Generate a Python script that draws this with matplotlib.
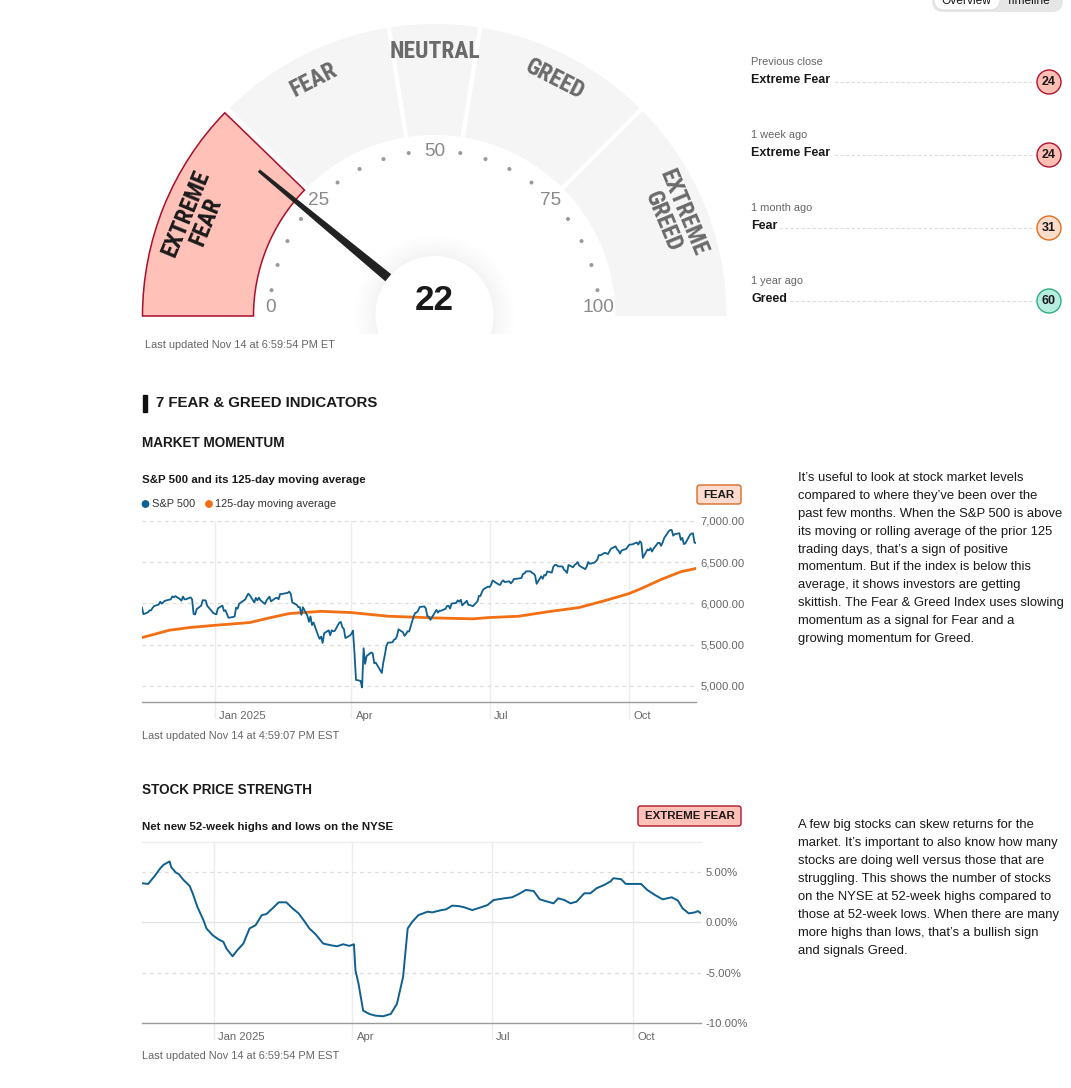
import numpy as np
import pandas as pd
import matplotlib
matplotlib.use("Agg")
import matplotlib.pyplot as plt
from matplotlib.patches import Wedge, Circle, Polygon, FancyBboxPatch, Rectangle
from matplotlib import font_manager

plt.rcParams['font.family'] = ['Liberation Sans', 'DejaVu Sans']

# ================= data =================

index_value = 22
bands = [(0, 25, "EXTREME\nFEAR"), (25, 45, "FEAR"), (45, 55, "NEUTRAL"),
         (55, 75, "GREED"), (75, 100, "EXTREME\nGREED")]
gauge_ticks = [0, 25, 50, 75, 100]

hist_periods = ["Previous close", "1 week ago", "1 month ago", "1 year ago"]
hist_labels = ["Extreme Fear", "Extreme Fear", "Fear", "Greed"]
hist_values = [24, 24, 31, 60]

holidays = ['2024-11-28', '2024-12-25', '2025-01-01', '2025-01-09', '2025-01-20', '2025-02-17',
            '2025-04-18', '2025-05-26', '2025-06-19', '2025-07-04', '2025-09-01']
sp500 = [
    5949, 5870, 5893, 5917, 5917, 5948, 5969, 5987, 6021, 5998, 6032,
    6047, 6050, 6086, 6075, 6090, 6053, 6034, 6084, 6051, 6051, 6074, 6050, 5872, 5867, 5931, 5974, 6040, 6037, 5971, 5907, 5882,
    5869, 5942, 5975, 5909, 5918, 5827, 5836, 5843, 5950, 5937, 5997, 6049, 6086, 6119, 6101, 6012, 6068, 6039, 6071, 6041,
    5994, 6037, 6061, 6083, 6026, 6066, 6068, 6052, 6115, 6115, 6129, 6144, 6118, 6013, 5983, 5955, 5956, 5862, 5955,
    5850, 5778, 5843, 5739, 5770, 5615, 5572, 5599, 5522, 5639, 5675, 5615, 5675, 5663, 5668, 5768, 5776, 5712, 5693, 5581, 5612,
    5633, 5671, 5397, 5074, 5062, 4983, 5457, 5268, 5363, 5406, 5397, 5276, 5283, 5158, 5288, 5376, 5485, 5525, 5529, 5561, 5569,
    5604, 5687, 5650, 5607, 5631, 5664, 5660, 5844, 5886, 5892, 5916, 5958, 5964, 5940, 5845, 5842, 5802, 5922, 5889, 5912, 5912,
    5936, 5970, 5971, 5939, 6000, 6006, 6038, 6022, 6045, 5977, 6033, 5983, 5981, 5967, 6025, 6092, 6092, 6141, 6173, 6205,
    6198, 6227, 6279, 6230, 6226, 6263, 6280, 6260, 6269, 6244, 6264, 6297, 6297, 6306, 6309, 6359, 6363, 6389, 6390, 6371, 6362, 6339,
    6238, 6330, 6299, 6345, 6340, 6389, 6374, 6446, 6466, 6469, 6450, 6449, 6411, 6396, 6370, 6467, 6439, 6466, 6481, 6502, 6460,
    6416, 6448, 6502, 6482, 6495, 6512, 6532, 6587, 6584, 6615, 6607, 6600, 6632, 6664, 6693, 6657, 6638, 6605, 6644, 6661, 6688,
    6711, 6715, 6716, 6740, 6714, 6754, 6735, 6553, 6655, 6644, 6671, 6630, 6664, 6736, 6735, 6699, 6738, 6792, 6875, 6891, 6891, 6822, 6840,
    6852, 6771, 6796, 6720, 6729, 6832, 6846, 6851, 6737, 6734]

ma_dates = ['2024-11-14', '2024-12-02', '2024-12-16', '2025-01-02', '2025-01-24', '2025-02-07',
            '2025-02-19', '2025-03-12', '2025-04-01', '2025-04-25', '2025-05-24', '2025-06-20',
            '2025-07-01', '2025-07-20', '2025-08-08', '2025-08-29', '2025-09-16', '2025-10-01',
            '2025-10-09', '2025-10-22', '2025-11-04', '2025-11-14']
ma125 = [5587, 5676, 5710, 5737, 5769, 5830, 5878, 5905, 5890, 5846, 5826, 5814,
         5830, 5845, 5899, 5951, 6040, 6121, 6182, 6291, 6385, 6425]

hl_dates = ['2024-11-15', '2024-11-19', '2024-11-23', '2024-11-27', '2024-11-29', '2024-12-03',
            '2024-12-04', '2024-12-07', '2024-12-09', '2024-12-12', '2024-12-16', '2024-12-18',
            '2024-12-21', '2024-12-23', '2024-12-25', '2024-12-27', '2024-12-31', '2025-01-04',
            '2025-01-07', '2025-01-09', '2025-01-13', '2025-01-16', '2025-01-20', '2025-01-24',
            '2025-01-28', '2025-02-01', '2025-02-04', '2025-02-08', '2025-02-12', '2025-02-17',
            '2025-02-21', '2025-02-25', '2025-03-01', '2025-03-04', '2025-03-08', '2025-03-13',
            '2025-03-18', '2025-03-22', '2025-03-26', '2025-03-30', '2025-04-02', '2025-04-03',
            '2025-04-05', '2025-04-08', '2025-04-12', '2025-04-16', '2025-04-21', '2025-04-26',
            '2025-04-30', '2025-05-04', '2025-05-07', '2025-05-10', '2025-05-14', '2025-05-20',
            '2025-05-23', '2025-05-29', '2025-06-01', '2025-06-05', '2025-06-09', '2025-06-13',
            '2025-06-18', '2025-06-23', '2025-06-28', '2025-07-02', '2025-07-09', '2025-07-14',
            '2025-07-18', '2025-07-23', '2025-07-28', '2025-08-01', '2025-08-06', '2025-08-10',
            '2025-08-13', '2025-08-17', '2025-08-21', '2025-08-25', '2025-08-30', '2025-09-03',
            '2025-09-07', '2025-09-12', '2025-09-16', '2025-09-18', '2025-09-23', '2025-09-26',
            '2025-10-01', '2025-10-06', '2025-10-10', '2025-10-15', '2025-10-20', '2025-10-26',
            '2025-10-30', '2025-11-02', '2025-11-06', '2025-11-10', '2025-11-12', '2025-11-14']
highs_lows = [3.9, 3.83, 4.57, 5.4, 5.73, 6.07, 5.5, 4.97, 4.8, 4.23, 3.63, 2.9,
              1.57, 0.9, 0.23, -0.6, -1.27, -1.7, -1.93, -2.6, -3.37, -2.77, -2.1, -0.6,
              -0.27, 0.73, 0.83, 1.4, 2.0, 2.0, 1.4, 0.9, 0.07, -0.6, -1.17, -2.1,
              -2.27, -2.37, -2.17, -2.33, -2.17, -4.77, -6.1, -8.77, -9.1, -9.27, -9.33, -9.1,
              -8.1, -5.43, -0.6, 0.07, 0.73, 1.07, 1.0, 1.23, 1.3, 1.67, 1.63, 1.5,
              1.23, 1.47, 1.73, 2.23, 2.4, 2.5, 2.8, 3.23, 3.13, 2.3, 2.07, 1.9,
              2.4, 2.23, 1.9, 2.07, 2.9, 2.9, 3.4, 3.73, 4.07, 4.4, 4.3, 3.83,
              3.83, 3.83, 3.23, 2.73, 2.3, 2.5, 2.17, 1.4, 0.9, 1.0, 1.13, 0.9]

month_ticks = ['2025-01-01', '2025-04-01', '2025-07-01', '2025-10-01']
month_labels = ['Jan 2025', 'Apr', 'Jul', 'Oct']
sp_ticks = [5000, 5500, 6000, 6500, 7000]
sp_ticklabels = ['5,000.00', '5,500.00', '6,000.00', '6,500.00', '7,000.00']
hl_ticks = [-10, -5, 0, 5]
hl_ticklabels = ['-10.00%', '-5.00%', '0.00%', '5.00%']

text_momentum = [
    "It\u2019s useful to look at stock market levels",
    "compared to where they\u2019ve been over the",
    "past few months. When the S&P 500 is above",
    "its moving or rolling average of the prior 125",
    "trading days, that\u2019s a sign of positive",
    "momentum. But if the index is below this",
    "average, it shows investors are getting",
    "skittish. The Fear & Greed Index uses slowing",
    "momentum as a signal for Fear and a",
    "growing momentum for Greed."]
text_strength = [
    "A few big stocks can skew returns for the",
    "market. It\u2019s important to also know how many",
    "stocks are doing well versus those that are",
    "struggling. This shows the number of stocks",
    "on the NYSE at 52-week highs compared to",
    "those at 52-week lows. When there are many",
    "more highs than lows, that\u2019s a bullish sign",
    "and signals Greed."]

# ================= styles =================

W, H = 1071, 1088
PT = 0.72  # px -> pt at dpi 100
DARK = '#1a1a1a'
GREY = '#666666'
BLUE = '#0f5f8f'
ORANGE = '#f36f14'
state_colors = {"Extreme Fear": ('#ffbfb5', '#b3122e'),
                "Fear": ('#fddccb', '#e0701c'),
                "Greed": ('#b7ece0', '#2fae7e')}

# condensed face for the gauge labels, whatever is installed
names = {f.name for f in font_manager.fontManager.ttflist}
narrow = None
for cand in ['Roboto Condensed', 'Liberation Sans Narrow', 'DejaVu Sans Condensed', 'Open Sans Condensed']:
    if cand in names:
        narrow = cand
        break
narrow_kw = dict(family=narrow) if narrow else dict(family='DejaVu Sans', fontstretch='condensed')

fig = plt.figure(figsize=(W / 100, H / 100), dpi=100)
bg = fig.add_axes([0, 0, 1, 1])
bg.set_xlim(0, W)
bg.set_ylim(H, 0)
bg.axis('off')


def txt(x, y, s, px, **kw):
    kw.setdefault('va', 'center')
    kw.setdefault('color', DARK)
    return bg.text(x, y, s, fontsize=px * PT, **kw)


# ================= gauge =================

CX, CY = 434.5, 316
R_OUT, R_IN = 292, 181


def polar(r, v):
    a = np.radians(180 - 1.8 * v)
    return CX + r * np.cos(a), CY - r * np.sin(a)


for v0, v1, name in bands:
    bg.add_patch(Wedge((CX, CY), R_OUT, 1.8 * v0 - 180, 1.8 * v1 - 180, width=R_OUT - R_IN,
                       facecolor='#f5f5f5', edgecolor='none', zorder=1))
for v0, v1, name in bands[1:]:
    x0, y0 = polar(R_IN - 2, v0)
    x1, y1 = polar(R_OUT + 2, v0)
    bg.plot([x0, x1], [y0, y1], color='white', lw=4.5 * PT, zorder=2, solid_capstyle='butt')
for v0, v1, name in bands:
    sel = v0 <= index_value < v1
    if sel:
        bg.add_patch(Wedge((CX, CY), R_OUT, 1.8 * v0 - 180, 1.8 * (v1 - 0.5) - 180,
                           width=R_OUT - R_IN, facecolor='#ffc1b8', edgecolor='#a8102c',
                           lw=1.1, zorder=3))
    mid = (v0 + v1) / 2
    r_lab = 258 if '\n' in name else 265
    lx, ly = polar(r_lab, mid)
    txt(lx, ly, name, 23.5, ha='center', rotation=90 - 1.8 * mid, weight='bold',
        color=DARK if sel else '#6a6a6a', linespacing=0.92,
        multialignment='center', zorder=4, **narrow_kw)

for v in range(0, 101, 5):
    if v in gauge_ticks:
        x, y = polar(164, v)
        txt(x, min(y, CY - 9), str(v), 19, ha='center', color='#8a8a8a', zorder=4)
    else:
        x, y = polar(165, v)
        bg.add_patch(Circle((x, y), 1.3, color='#9a9a9a', zorder=4))

# soft shadow (upper part only) + centre disc
clip = Rectangle((CX - 100, CY - 100), 200, 118, transform=bg.transData)
for r in np.arange(80, 58, -2):
    sh = Circle((CX, CY - 1), r, facecolor='black', alpha=0.0045, edgecolor='none', zorder=5)
    bg.add_patch(sh)
    sh.set_clip_path(clip)
bg.add_patch(Circle((CX, CY - 1), 59, facecolor='white', edgecolor='none', zorder=6))

ang = np.radians(180 - 1.8 * index_value)
ux, uy = np.cos(ang), -np.sin(ang)
nx, ny = -uy, ux
b0, b1, w0, w1 = 60, 228, 4.6, 1.6
needle = [(CX + b0 * ux + w0 * nx, CY + b0 * uy + w0 * ny),
          (CX + b1 * ux + w1 * nx, CY + b1 * uy + w1 * ny),
          (CX + b1 * ux - w1 * nx, CY + b1 * uy - w1 * ny),
          (CX + b0 * ux - w0 * nx, CY + b0 * uy - w0 * ny)]
bg.add_patch(Polygon(needle, closed=True, facecolor='#222222', edgecolor='none', zorder=7))
txt(CX, 300, str(index_value), 35, ha='center', weight='bold', zorder=8)

txt(145, 345, "Last updated Nov 14 at 6:59:54 PM ET", 11, color=GREY)

# ================= overview toggle (cut off at top, as on the page) =================

bg.add_patch(FancyBboxPatch((932, -20), 131, 32, boxstyle='round,pad=0,rounding_size=11',
                            facecolor='#e6e6e6', edgecolor='none', zorder=1))
bg.add_patch(FancyBboxPatch((934, -20), 66, 30, boxstyle='round,pad=0,rounding_size=10',
                            facecolor='white', edgecolor='#dddddd', lw=0.8, zorder=2))
txt(966, 1, "Overview", 12, ha='center', zorder=3)
txt(1028, 1, "Timeline", 12, ha='center', zorder=3)

# ================= history list =================

for i, (per, lab, val) in enumerate(zip(hist_periods, hist_labels, hist_values)):
    y = 62 + 73 * i
    txt(751, y, per, 11, color=GREY)
    bg.plot([751, 1036], [y + 20, y + 20], color='#dcdcdc', lw=0.8, ls=(0, (3, 2)), zorder=1)
    txt(751, y + 18, lab, 12.5, weight='bold', zorder=2,
        bbox=dict(facecolor='white', edgecolor='none', pad=2))
    fc, ec = state_colors[lab]
    bg.add_patch(Circle((1049, y + 20), 12, facecolor=fc, edgecolor=ec, lw=1.0, zorder=3))
    txt(1049, y + 20, str(val), 12.5, ha='center', weight='bold', zorder=4)

# ================= headings =================

bg.add_patch(Rectangle((143, 395), 4, 17, color='#111111'))
txt(156, 403, "7 FEAR & GREED INDICATORS", 15, weight='bold')
txt(142, 443, "MARKET MOMENTUM", 13.5, weight='bold')
txt(142, 480, "S&P 500 and its 125-day moving average", 11.5, weight='bold')
bg.add_patch(Circle((145.5, 504), 3.2, color=BLUE))
txt(152, 504, "S&P 500", 11, color='#333333')
bg.add_patch(Circle((209, 504), 3.2, color=ORANGE))
txt(215, 504, "125-day moving average", 11, color='#333333')
bg.add_patch(FancyBboxPatch((697, 485), 44, 19, boxstyle='round,pad=0,rounding_size=2.5',
                            facecolor='#fddccf', edgecolor='#d96a28', lw=1))
txt(719, 494.5, "FEAR", 11.5, ha='center', weight='bold')

txt(142, 790, "STOCK PRICE STRENGTH", 13.5, weight='bold')
txt(142, 827, "Net new 52-week highs and lows on the NYSE", 11.5, weight='bold')
bg.add_patch(FancyBboxPatch((638, 806), 103, 20, boxstyle='round,pad=0,rounding_size=2.5',
                            facecolor='#ffc1b8', edgecolor='#b3122e', lw=1))
txt(689.5, 816, "EXTREME FEAR", 11.5, ha='center', weight='bold')

for i, line in enumerate(text_momentum):
    txt(798, 478 + 17.9 * i, line, 13)
for i, line in enumerate(text_strength):
    txt(798, 825 + 18 * i, line, 13)

txt(142, 736, "Last updated Nov 14 at 4:59:07 PM EST", 11, color=GREY)
txt(142, 1056, "Last updated Nov 14 at 6:59:54 PM EST", 11, color=GREY)


# ================= line charts =================

def chart_axes(l, t, r, b):
    ax = fig.add_axes([l / W, 1 - b / H, (r - l) / W, (b - t) / H])
    ax.set_facecolor('none')
    for s in ['top', 'left', 'right']:
        ax.spines[s].set_visible(False)
    ax.spines['bottom'].set_color('#9a9a9a')
    ax.spines['bottom'].set_linewidth(1.0)
    ax.yaxis.tick_right()
    ax.tick_params(axis='y', length=0, pad=3, labelsize=11.2 * PT, labelcolor=GREY)
    ax.set_xticks([])
    for d, lab in zip(month_ticks, month_labels):
        d = pd.Timestamp(d)
        ax.axvline(d, ymin=-0.09, ymax=1, color='#ececec', lw=1, clip_on=False, zorder=0)
        ax.annotate(lab, xy=(d, 0), xycoords=('data', 'axes fraction'), xytext=(3, -14 * PT),
                    textcoords='offset points', ha='left', va='center',
                    fontsize=11.2 * PT, color=GREY)
    return ax


sp_dates = pd.bdate_range('2024-11-14', '2025-11-14', freq='C', holidays=holidays)
n = min(len(sp_dates), len(sp500))

ax1 = chart_axes(142, 521, 696, 702)
ax1.plot(pd.to_datetime(ma_dates), ma125, color=ORANGE, lw=2.0, zorder=2)
ax1.plot(sp_dates[:n], sp500[:n], color=BLUE, lw=1.3, zorder=3)
ax1.set_xlim(pd.Timestamp('2024-11-14'), pd.Timestamp('2025-11-14'))
ax1.set_ylim(4806, 7000)
ax1.set_yticks(sp_ticks)
ax1.set_yticklabels(sp_ticklabels)
for v in sp_ticks:
    ax1.axhline(v, color='#dedede', lw=0.9, ls=(0, (3, 3)), zorder=0, clip_on=False)

ax2 = chart_axes(142, 842, 701, 1023)
ax2.plot(pd.to_datetime(hl_dates), highs_lows, color=BLUE, lw=1.4, zorder=3)
ax2.set_xlim(pd.Timestamp('2024-11-15'), pd.Timestamp('2025-11-14'))
ax2.set_ylim(-10, 8)
ax2.set_yticks(hl_ticks)
ax2.set_yticklabels(hl_ticklabels)
ax2.axhline(8, color='#eeeeee', lw=1, zorder=0, clip_on=False)
ax2.axhline(0, color='#e4e4e4', lw=1, zorder=0)
for v in [5, -5]:
    ax2.axhline(v, color='#dedede', lw=0.9, ls=(0, (3, 3)), zorder=0)

fig.savefig('out.png', dpi=100, facecolor='white')
